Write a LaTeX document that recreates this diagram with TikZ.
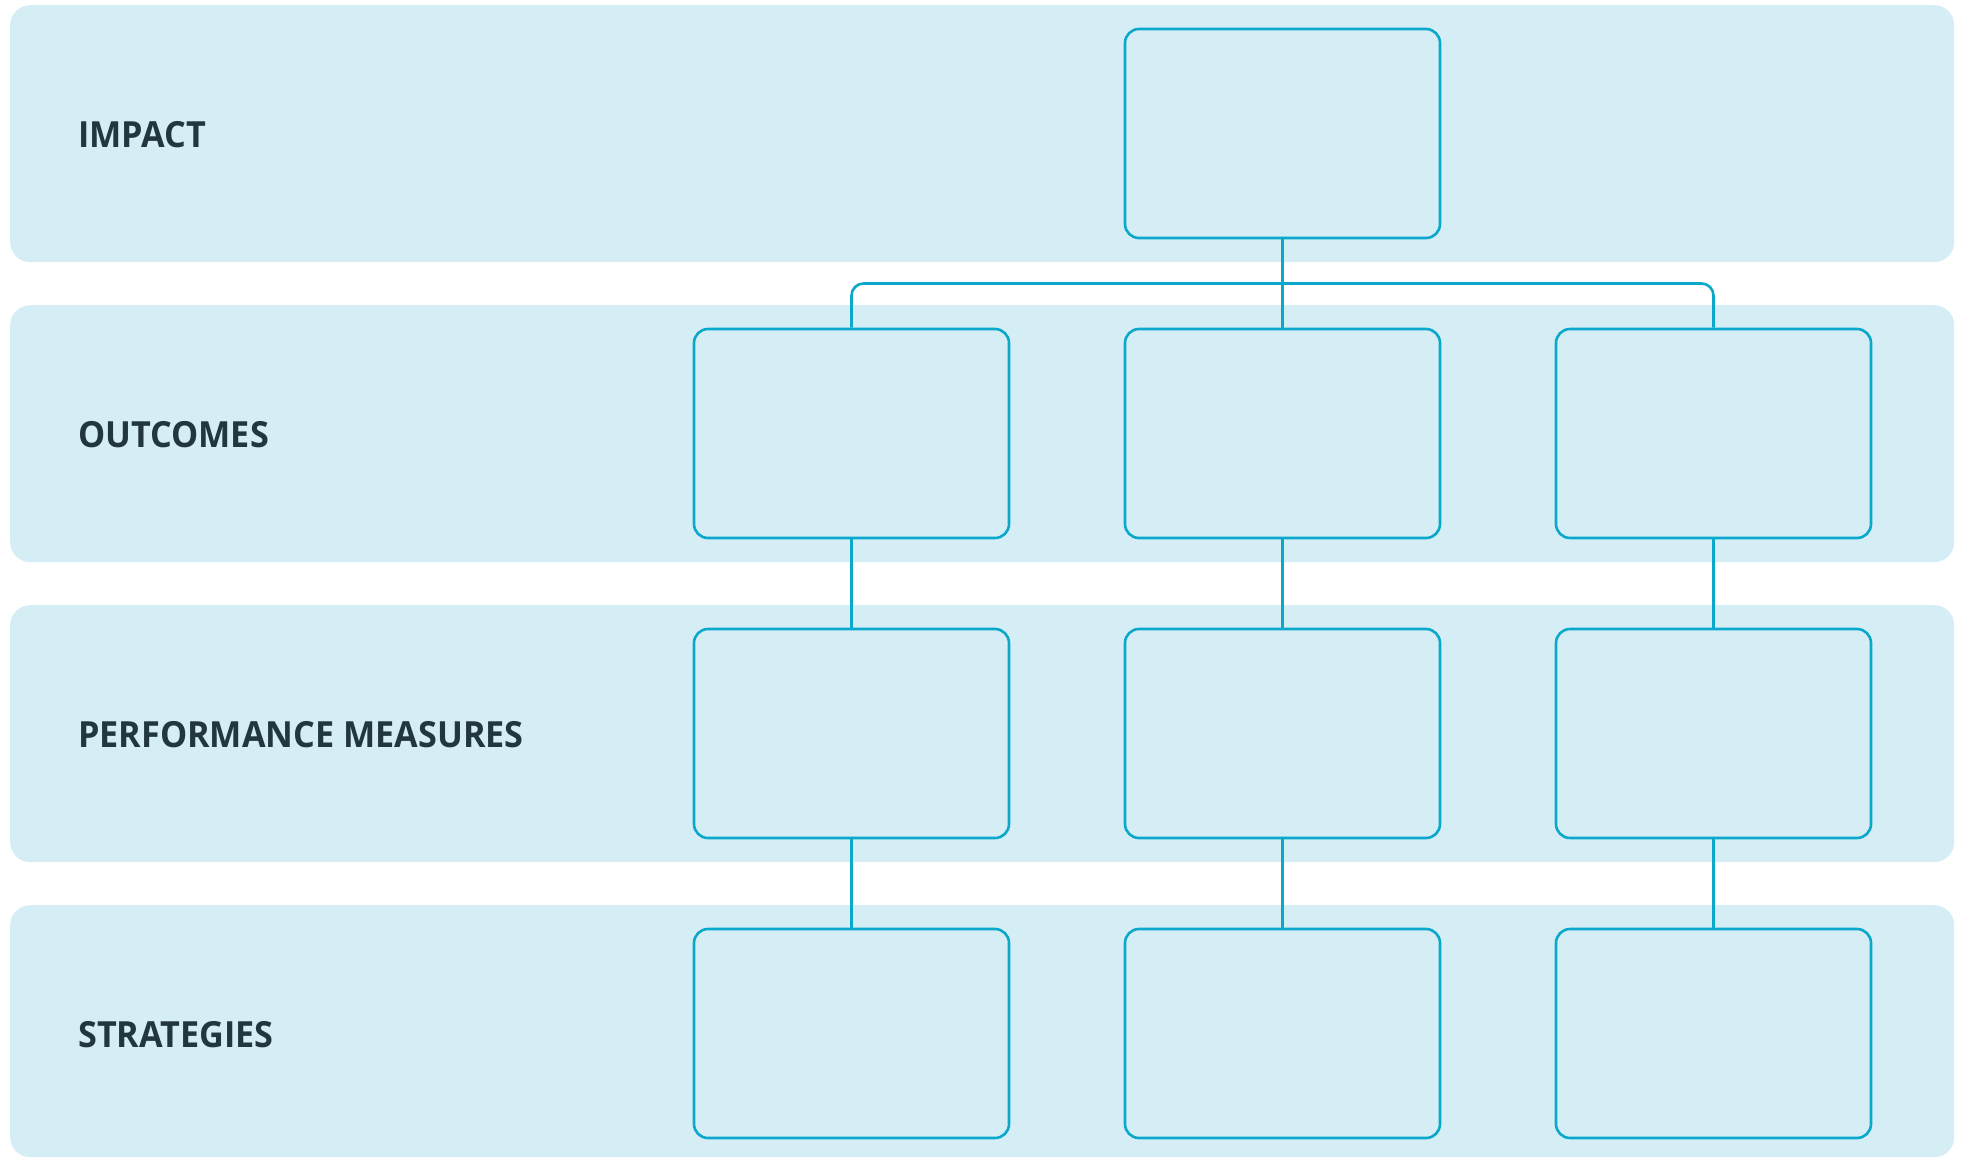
\documentclass[tikz,border=0pt]{standalone}
\usepackage{fontspec}
\setmainfont{Open Sans}
\newfontfamily\labelfont{Open Sans}[FakeStretch=0.95]
\usetikzlibrary{calc}
\definecolor{bandfill}{HTML}{D5EDF5}
\definecolor{lineblue}{HTML}{0AA8CB}
\definecolor{labeltext}{HTML}{22363F}
\tikzset{
  band/.style={fill=bandfill, draw=none, rounded corners=20pt, minimum width=1944pt, minimum height=257pt, inner sep=0pt, anchor=north west},
  boxnode/.style={draw=lineblue, fill=bandfill, line width=2.6pt, rounded corners=14pt, minimum width=315pt, minimum height=209pt, inner sep=0pt},
  rowlabel/.style={anchor=west, text=labeltext, font=\labelfont\fontsize{36pt}{40pt}\selectfont\bfseries, inner sep=0pt},
  conn/.style={draw=lineblue, line width=2.6pt}
}
\begin{document}
\begin{tikzpicture}[x=1pt,y=-1pt]
\useasboundingbox (0,0) rectangle (1963,1157);
% bands
\node[band] (b1) at (10,5) {};
\node[band] (b2) at (10,305) {};
\node[band] (b3) at (10,605) {};
\node[band, minimum height=252pt] (b4) at (10,905) {};
% labels
\node[rowlabel] (l1) at (78,135) {IMPACT};
\node[rowlabel] (l2) at (78,435) {OUTCOMES};
\node[rowlabel] (l3) at (78,735) {PERFORMANCE MEASURES};
\node[rowlabel] (l4) at (78,1035) {STRATEGIES};
% boxes
\node[boxnode] (imp) at (1282.5,133.5) {};
\node[boxnode] (o1) at (851.5,433.5) {};
\node[boxnode] (o2) at (1282.5,433.5) {};
\node[boxnode] (o3) at (1713.5,433.5) {};
\node[boxnode] (p1) at (851.5,733.5) {};
\node[boxnode] (p2) at (1282.5,733.5) {};
\node[boxnode] (p3) at (1713.5,733.5) {};
\node[boxnode] (s1) at (851.5,1033.5) {};
\node[boxnode] (s2) at (1282.5,1033.5) {};
\node[boxnode] (s3) at (1713.5,1033.5) {};
% connectors
\coordinate (hub) at (1282.5,283.5);
\draw[conn] (imp.south) -- (o2.north);
\draw[conn, rounded corners=12pt] (o1.north) |- (hub) -| (o3.north);
\draw[conn] (o1.south) -- (p1.north);
\draw[conn] (o2.south) -- (p2.north);
\draw[conn] (o3.south) -- (p3.north);
\draw[conn] (p1.south) -- (s1.north);
\draw[conn] (p2.south) -- (s2.north);
\draw[conn] (p3.south) -- (s3.north);
\end{tikzpicture}
\end{document}
